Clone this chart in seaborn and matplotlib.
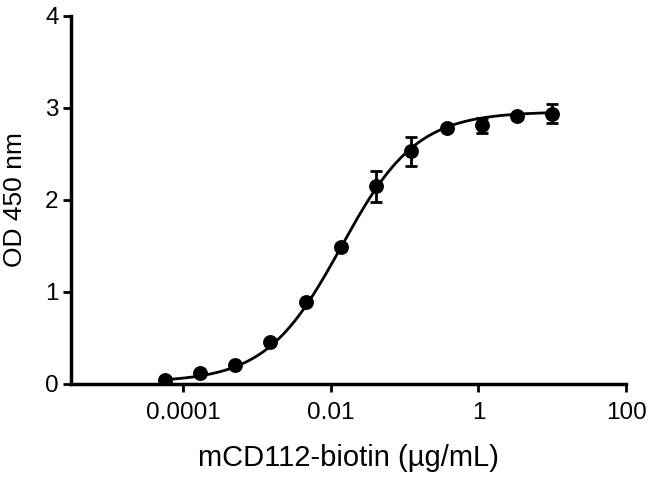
"""Dose-response ELISA curve: OD 450 nm vs mCD112-biotin concentration."""

import matplotlib

matplotlib.use("Agg")
import matplotlib.pyplot as plt
import numpy as np
import pandas as pd
import seaborn as sns


# 3-fold dilution series (ug/mL)
concentration = [10.0, 3.333, 1.111, 0.3704, 0.1235, 0.04115, 0.01372,
                 0.004572, 0.001524, 0.000508, 0.0001694, 0.00005645]
od450 = [2.94, 2.91, 2.81, 2.78, 2.53, 2.15, 1.49, 0.89, 0.46, 0.21, 0.12, 0.04]
od450_err = [0.10, 0.03, 0.08, 0.02, 0.16, 0.17, 0.03, 0.02, 0.02, 0.01, 0.01, 0.01]

# four-parameter logistic fit, parameters
fit_bottom = 0.02
fit_top = 2.96
fit_log_ec50 = -1.86
fit_hill = 0.85

x_ticks = [0.0001, 0.01, 1, 100]
x_tick_labels = ["0.0001", "0.01", "1", "100"]
y_ticks = [0, 1, 2, 3, 4]

points = pd.DataFrame({"conc": concentration, "od": od450, "err": od450_err})
log_x = np.linspace(np.log10(min(concentration)), np.log10(max(concentration)), 300)
curve = pd.DataFrame({
    "conc": 10 ** log_x,
    "od": fit_bottom + (fit_top - fit_bottom) / (1 + 10 ** ((fit_log_ec50 - log_x) * fit_hill)),
})

sns.set_theme(style="ticks")
plt.rcParams["font.family"] = ["Liberation Sans", "DejaVu Sans"]

fig = plt.figure(figsize=(6.5, 4.8), dpi=100)
ax = fig.add_axes([71 / 650, 1 - 384 / 480, (626 - 71) / 650, (384 - 16) / 480])

sns.lineplot(data=curve, x="conc", y="od", color="black", linewidth=2, ax=ax)
ax.errorbar(points["conc"], points["od"], yerr=points["err"], fmt="none",
            ecolor="black", elinewidth=2, capsize=4.5, capthick=2, zorder=3)
sns.scatterplot(data=points, x="conc", y="od", color="black", s=115,
                edgecolor="black", linewidth=0, ax=ax, zorder=4)

ax.set_xscale("log")
ax.set_xlim(10 ** -5.52, 100)
ax.set_ylim(0, 4)
ax.set_xticks(x_ticks)
ax.set_xticklabels(x_tick_labels)
ax.set_yticks(y_ticks)
ax.minorticks_off()
ax.tick_params(axis="both", which="major", length=6, width=2, color="black",
               labelsize=17.5, labelcolor="black")
ax.tick_params(axis="x", pad=7)
ax.tick_params(axis="y", pad=3)

for side in ("top", "right"):
    ax.spines[side].set_visible(False)
for side in ("left", "bottom"):
    ax.spines[side].set_linewidth(2.5)
    ax.spines[side].set_color("black")

ax.set_xlabel("mCD112-biotin (\u00b5g/mL)", fontsize=21, color="black")
ax.set_ylabel("OD 450 nm", fontsize=19, color="black")
ax.xaxis.set_label_coords(0.5, -0.201)
ax.xaxis.label.set_verticalalignment("center")
ax.yaxis.set_label_coords(-0.101, 0.5)
ax.yaxis.label.set_verticalalignment("center")

fig.savefig("out.png", dpi=100)
